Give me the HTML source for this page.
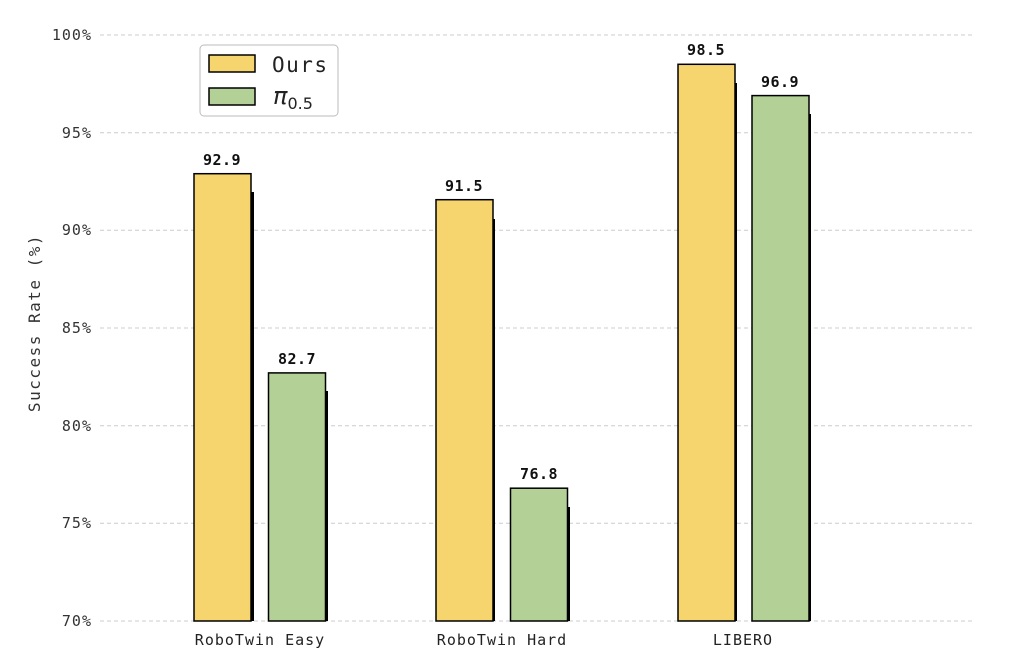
<!DOCTYPE html>
<html><head><style>body{margin:0;background:#fff}</style></head><body>
<svg width="1023" height="651" xmlns="http://www.w3.org/2000/svg" font-family="'DejaVu Sans Mono','Liberation Mono',monospace">
<g stroke="#ccc" stroke-dasharray="4,3" stroke-width="1">
<line x1="100" x2="975" y1="35" y2="35"/><line x1="100" x2="975" y1="132.7" y2="132.7"/>
<line x1="100" x2="975" y1="230.3" y2="230.3"/><line x1="100" x2="975" y1="328" y2="328"/>
<line x1="100" x2="975" y1="425.7" y2="425.7"/><line x1="100" x2="975" y1="523.3" y2="523.3"/>
<line x1="100" x2="975" y1="621" y2="621"/>
</g>
<g font-size="15" fill="#333" text-anchor="end" letter-spacing="1">
<text x="92" y="40">100%</text><text x="92" y="138">95%</text><text x="92" y="235">90%</text>
<text x="92" y="333">85%</text><text x="92" y="431">80%</text><text x="92" y="528">75%</text><text x="92" y="626">70%</text>
</g>
<text transform="translate(40,323) rotate(-90)" font-size="16" fill="#333" text-anchor="middle" letter-spacing="1.5">Success Rate (%)</text>
<g fill="#000">
<rect x="251" y="192" width="3" height="429"/><rect x="325" y="391" width="3" height="230"/>
<rect x="492" y="219" width="3" height="402"/><rect x="567" y="507" width="3" height="114"/>
<rect x="734" y="83" width="3" height="538"/><rect x="808" y="114" width="3" height="507"/>
</g>
<g stroke="#000" stroke-width="1.5">
<rect x="194" y="173.7" width="57" height="447.3" fill="#f6d56f"/>
<rect x="268.5" y="372.9" width="57" height="248.1" fill="#b3d196"/>
<rect x="436" y="199.7" width="57" height="421.3" fill="#f6d56f"/>
<rect x="510.5" y="488.2" width="57" height="132.8" fill="#b3d196"/>
<rect x="678" y="64.3" width="57" height="556.7" fill="#f6d56f"/>
<rect x="752" y="95.6" width="57" height="525.4" fill="#b3d196"/>
</g>
<g font-size="15" font-weight="bold" fill="#111" text-anchor="middle" letter-spacing="0.5">
<text x="222" y="165">92.9</text><text x="297" y="364">82.7</text>
<text x="464" y="191">91.5</text><text x="539" y="479">76.8</text>
<text x="706" y="55">98.5</text><text x="780" y="87">96.9</text>
</g>
<g font-size="15" fill="#222" text-anchor="middle" letter-spacing="1">
<text x="260" y="645">RoboTwin Easy</text><text x="502" y="645">RoboTwin Hard</text><text x="743" y="645">LIBERO</text>
</g>
<rect x="200" y="45" width="138" height="71" rx="4" fill="#fff" stroke="#bbb" stroke-width="1"/>
<rect x="209" y="55" width="46" height="17" fill="#f6d56f" stroke="#000" stroke-width="1.5"/>
<rect x="209" y="88" width="46" height="17" fill="#b3d196" stroke="#000" stroke-width="1.5"/>
<text x="272" y="72" font-size="21" fill="#222" letter-spacing="1.5">Ours</text>
<text x="273" y="104" font-size="24" fill="#222" font-style="italic" font-family="'DejaVu Sans',sans-serif">π<tspan font-size="16" font-style="normal" font-family="'DejaVu Sans',sans-serif" dy="5">0.5</tspan></text>
</svg>
</body></html>
